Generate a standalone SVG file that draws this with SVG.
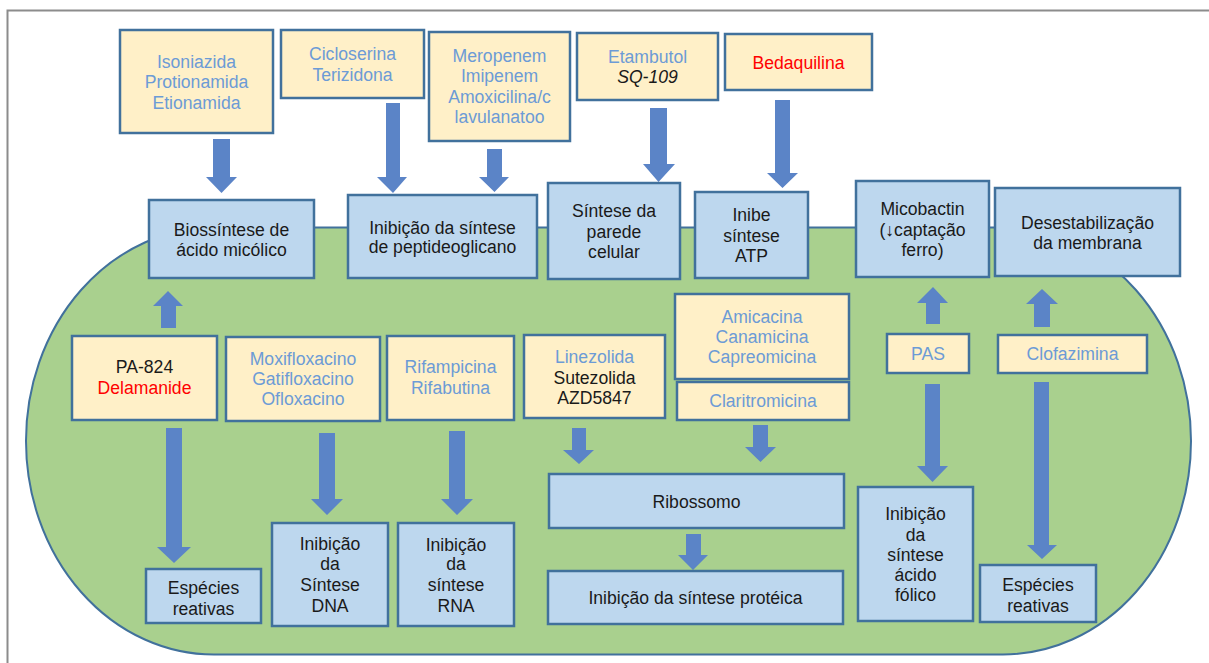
<svg xmlns="http://www.w3.org/2000/svg" width="1209" height="663" viewBox="0 0 1209 663">
<style>
.y{fill:#FFF0C8;stroke:#41719C;stroke-width:2.5}
.b{fill:#BDD7EE;stroke:#41719C;stroke-width:2.5}
.arr{fill:#5B84C7}
text{font-family:"Liberation Sans",Arial,"DejaVu Sans",sans-serif;font-size:17.6px;text-anchor:middle;fill:#1a1a1a}
.t{fill:#6C9BD6}
.r{fill:#FF0000}
</style>
<rect width="1209" height="663" fill="#ffffff"/>
<path d="M7.5 663 V10.5 H1209" fill="none" stroke="#8c8c8c" stroke-width="2"/>
<path id="cell" d="M214 227.5 H1003 A188 213.5 0 0 1 1003 654.5 H214 A188 213.5 0 0 1 214 227.5 Z" fill="#A9D08E" stroke="#41719C" stroke-width="2"/>
<g id="connectors">
<polygon class="arr" points="213,139 230,139 230,177 237,177 221.5,193 206,177 213,177"/>
<polygon class="arr" points="386,103 400,103 400,177 407,177 393,193 377,177 386,177"/>
<polygon class="arr" points="487,149 502,149 502,177 509,177 494.5,192 479,177 487,177"/>
<polygon class="arr" points="650,108 667,108 667,164 675,164 658.5,182 643,164 650,164"/>
<polygon class="arr" points="775,100 790,100 790,173 798,173 782.5,188 767,173 775,173"/>
<polygon class="arr" points="161,328 176,328 176,306 183,306 168,291 153,306 161,306"/>
<polygon class="arr" points="926,324 940,324 940,303 948,303 933,287 917,303 926,303"/>
<polygon class="arr" points="1034,327 1050,327 1050,304 1058,304 1042,289 1026,304 1034,304"/>
<polygon class="arr" points="166,428 182,428 182,547 191,547 174,563 157,547 166,547"/>
<polygon class="arr" points="319,433 335,433 335,499 343,499 327,515 311,499 319,499"/>
<polygon class="arr" points="449,431 465,431 465,499 473,499 457,515 441,499 449,499"/>
<polygon class="arr" points="572,428 586,428 586,450 594,450 579,464 563,450 572,450"/>
<polygon class="arr" points="753,425 768,425 768,447 776,447 760.5,462 745,447 753,447"/>
<polygon class="arr" points="686,534 701,534 701,555 708,555 693,570 678,555 686,555"/>
<polygon class="arr" points="925,384 940,384 940,466 948,466 932.5,482 917,466 925,466"/>
<polygon class="arr" points="1034,382 1049,382 1049,545 1057,545 1042,559 1027,545 1034,545"/>
</g>
<g id="isoniazida"><rect class="y" x="120" y="30" width="153" height="103"/>
<text class="t" x="196.5" y="68">Isoniazida</text><text class="t" x="196.5" y="88">Protionamida</text><text class="t" x="196.5" y="109">Etionamida</text></g>
<g id="cicloserina"><rect class="y" x="281" y="30" width="143" height="68"/>
<text class="t" x="352.5" y="60">Cicloserina</text><text class="t" x="352.5" y="81">Terizidona</text></g>
<g id="meropenem"><rect class="y" x="429" y="32" width="141" height="109"/>
<text class="t" x="499.5" y="62">Meropenem</text><text class="t" x="499.5" y="82">Imipenem</text><text class="t" x="499.5" y="103">Amoxicilina/c</text><text class="t" x="499.5" y="123">lavulanatoo</text></g>
<g id="etambutol"><rect class="y" x="577" y="33" width="141" height="67"/>
<text class="t" x="647.5" y="63">Etambutol</text><text x="647.5" y="83" font-style="italic">SQ-109</text></g>
<g id="bedaquilina"><rect class="y" x="725" y="34" width="147" height="56"/>
<text class="r" x="798.5" y="69">Bedaquilina</text></g>
<g id="biossintese"><rect class="b" x="149" y="200" width="165" height="78"/>
<text x="231.5" y="236">Biossíntese de</text><text x="231.5" y="256">ácido micólico</text></g>
<g id="peptideoglicano"><rect class="b" x="348" y="195" width="189" height="83"/>
<text x="442.5" y="234">Inibição da síntese</text><text x="442.5" y="253">de peptideoglicano</text></g>
<g id="parede"><rect class="b" x="548" y="183" width="132" height="96"/>
<text x="614" y="217">Síntese da</text><text x="614" y="238">parede</text><text x="614" y="258">celular</text></g>
<g id="atp"><rect class="b" x="695" y="192" width="113" height="86"/>
<text x="751.5" y="221">Inibe</text><text x="751.5" y="242">síntese</text><text x="751.5" y="262">ATP</text></g>
<g id="micobactin"><rect class="b" x="856" y="181" width="133" height="96"/>
<text x="922.5" y="215">Micobactin</text><text x="922.5" y="236">(↓captação</text><text x="922.5" y="256">ferro)</text></g>
<g id="desestabilizacao"><rect class="b" x="995" y="188" width="185" height="88"/>
<text x="1087.5" y="229">Desestabilização</text><text x="1087.5" y="249">da membrana</text></g>
<g id="pa824"><rect class="y" x="72" y="336" width="145" height="84"/>
<text x="144.5" y="373">PA-824</text><text class="r" x="144.5" y="394">Delamanide</text></g>
<g id="moxifloxacino"><rect class="y" x="226" y="337" width="154" height="84"/>
<text class="t" x="303" y="365">Moxifloxacino</text><text class="t" x="303" y="385">Gatifloxacino</text><text class="t" x="303" y="405">Ofloxacino</text></g>
<g id="rifampicina"><rect class="y" x="387" y="336" width="127" height="84"/>
<text class="t" x="450.5" y="373">Rifampicina</text><text class="t" x="450.5" y="394">Rifabutina</text></g>
<g id="linezolida"><rect class="y" x="524" y="335" width="141" height="83"/>
<text class="t" x="594.5" y="363">Linezolida</text><text x="594.5" y="384">Sutezolida</text><text x="594.5" y="404">AZD5847</text></g>
<g id="amicacina"><rect class="y" x="675" y="294" width="174" height="85"/>
<text class="t" x="762" y="323">Amicacina</text><text class="t" x="762" y="343">Canamicina</text><text class="t" x="762" y="363">Capreomicina</text></g>
<g id="claritromicina"><rect class="y" x="677" y="382" width="172" height="38"/>
<text class="t" x="763" y="407">Claritromicina</text></g>
<g id="pas"><rect class="y" x="887" y="334" width="82" height="39"/>
<text class="t" x="928" y="360">PAS</text></g>
<g id="clofazimina"><rect class="y" x="998" y="335" width="149" height="38"/>
<text class="t" x="1072.5" y="360">Clofazimina</text></g>
<g id="especies-esq"><rect class="b" x="146" y="569" width="115" height="54"/>
<text x="203.5" y="594">Espécies</text><text x="203.5" y="615">reativas</text></g>
<g id="dna"><rect class="b" x="272" y="523" width="116" height="103"/>
<text x="330" y="550">Inibição</text><text x="330" y="570">da</text><text x="330" y="591">Síntese</text><text x="330" y="612">DNA</text></g>
<g id="rna"><rect class="b" x="398" y="523" width="116" height="103"/>
<text x="456" y="551">Inibição</text><text x="456" y="570">da</text><text x="456" y="591">síntese</text><text x="456" y="612">RNA</text></g>
<g id="ribossomo"><rect class="b" x="549" y="474" width="295" height="54"/>
<text x="696.5" y="508">Ribossomo</text></g>
<g id="proteica"><rect class="b" x="548" y="571" width="295" height="53"/>
<text x="695.5" y="604">Inibição da síntese protéica</text></g>
<g id="acido-folico"><rect class="b" x="858" y="487" width="115" height="134"/>
<text x="915.5" y="520">Inibição</text><text x="915.5" y="541">da</text><text x="915.5" y="561">síntese</text><text x="915.5" y="581">ácido</text><text x="915.5" y="601">fólico</text></g>
<g id="especies-dir"><rect class="b" x="980" y="565" width="116" height="57"/>
<text x="1038" y="591">Espécies</text><text x="1038" y="612">reativas</text></g>
</svg>
